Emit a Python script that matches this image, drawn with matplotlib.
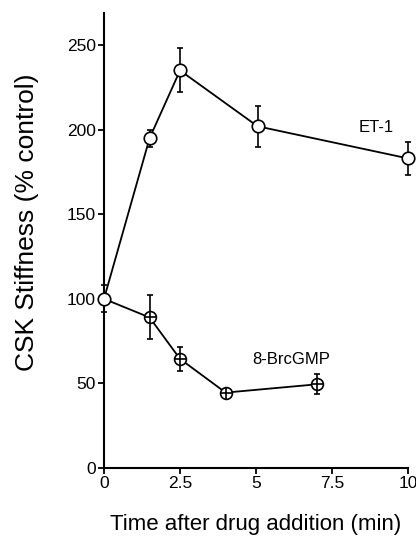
import numpy as np
import matplotlib
matplotlib.use('Agg')
import matplotlib.pyplot as plt

# Data
et1_time = [0, 1.5, 2.5, 5.05, 10]
et1_stiff = [100, 195, 235, 202, 183]
et1_err = [8, 5, 13, 12, 10]

br_time = [0, 1.5, 2.5, 4, 7]
br_stiff = [100, 89, 64.5, 44.6, 49.5]
br_err = [0, 13, 7, 0, 6]

x_ticks = [0, 2.5, 5, 7.5, 10]
x_tick_labels = ['0', '2.5', '5', '7.5', '10']
y_ticks = [0, 50, 100, 150, 200, 250]

plt.rcParams['font.family'] = ['Liberation Sans', 'DejaVu Sans']

fig = plt.figure(figsize=(4.16, 5.38), dpi=100)
ax = fig.add_axes([0.25, 0.13, 0.731, 0.846])

# 8-BrcGMP series (circle with plus)
ax.errorbar(br_time[1:], br_stiff[1:], yerr=br_err[1:], fmt='none', ecolor='black',
            elinewidth=1.2, capsize=2.5, capthick=1.2, zorder=2, clip_on=False)
ax.plot(br_time, br_stiff, color='black', lw=1.3, zorder=3, clip_on=False)
ax.plot(br_time[1:], br_stiff[1:], 'o', ms=8.5, mfc='white', mec='black', mew=1.2,
        zorder=4, clip_on=False)
ax.plot(br_time[1:], br_stiff[1:], '+', ms=8.5, mec='black', mew=1.2, zorder=5,
        clip_on=False)

# ET-1 series (open circles)
ax.errorbar(et1_time, et1_stiff, yerr=et1_err, fmt='none', ecolor='black',
            elinewidth=1.2, capsize=2.5, capthick=1.2, zorder=2, clip_on=False)
ax.plot(et1_time, et1_stiff, '-o', color='black', lw=1.3, ms=9, mfc='white',
        mec='black', mew=1.2, zorder=6, clip_on=False)

ax.text(8.95, 201, 'ET-1', fontsize=12, ha='center', va='center')
ax.text(6.14, 64, '8-BrcGMP', fontsize=12, ha='center', va='center')

ax.set_xlim(0, 10)
ax.set_ylim(0, 269)
ax.set_xticks(x_ticks)
ax.set_xticklabels(x_tick_labels)
ax.set_yticks(y_ticks)
ax.tick_params(direction='out', length=4, width=1.3, labelsize=12.5, pad=2)

for side in ['top', 'right']:
    ax.spines[side].set_visible(False)
for side in ['left', 'bottom']:
    ax.spines[side].set_linewidth(1.5)

ax.set_xlabel('Time after drug addition (min)', fontsize=16, labelpad=16)
ax.set_ylabel('CSK Stiffness (% control)', fontsize=19, labelpad=20)
ax.yaxis.label.set_y(0.54)  # label sits a little above the axis middle

fig.savefig('out.png', dpi=100)
